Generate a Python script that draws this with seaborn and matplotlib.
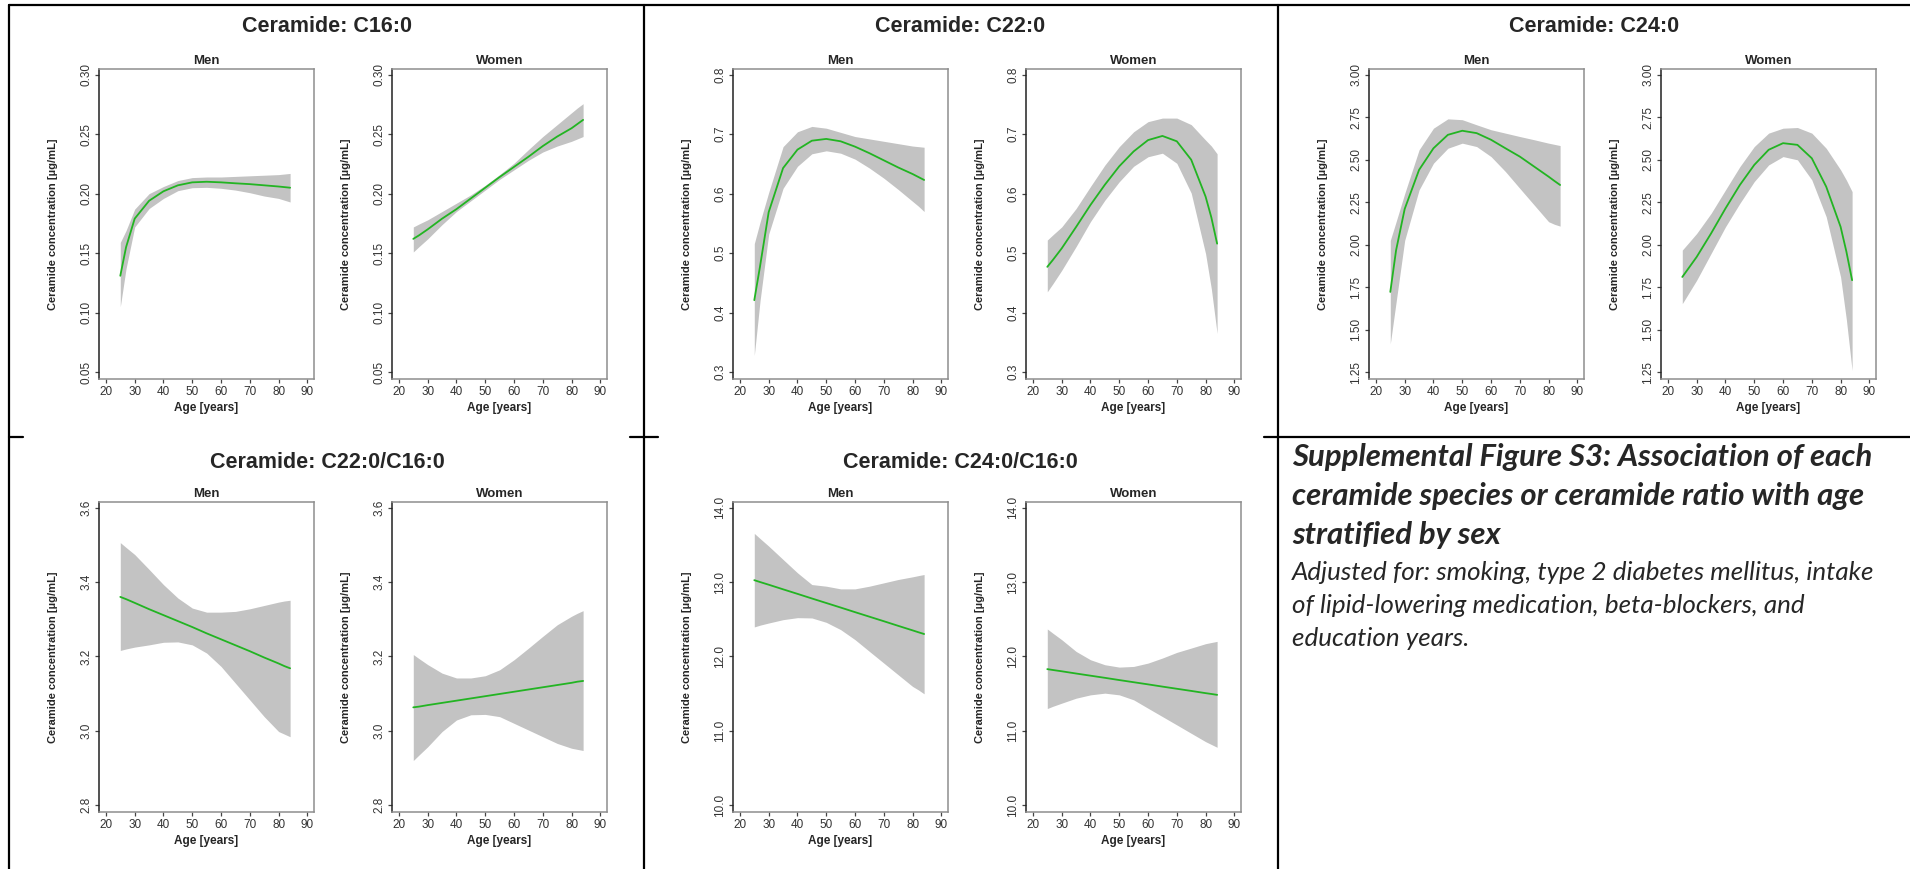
import matplotlib
matplotlib.use("Agg")
import matplotlib.pyplot as plt
from matplotlib.lines import Line2D
import seaborn as sns

# ---- data ----
ages = [25, 27, 30, 35, 40, 45, 50, 55, 60, 65, 70, 75, 80, 82, 84]

# Ceramide C16:0
c16_men_fit = [0.131, 0.155, 0.179, 0.194, 0.202, 0.207, 0.2095, 0.210, 0.2095, 0.2087, 0.208, 0.207, 0.206, 0.2055, 0.205]
c16_men_hi  = [0.159, 0.169, 0.187, 0.200, 0.206, 0.211, 0.2135, 0.214, 0.214, 0.2145, 0.215, 0.2155, 0.216, 0.2165, 0.217]
c16_men_lo  = [0.105, 0.137, 0.172, 0.1875, 0.196, 0.2025, 0.205, 0.2053, 0.2045, 0.203, 0.2008, 0.198, 0.196, 0.1945, 0.193]
c16_women_fit = [0.162, 0.165, 0.170, 0.179, 0.187, 0.196, 0.205, 0.214, 0.2225, 0.231, 0.240, 0.248, 0.255, 0.2585, 0.262]
c16_women_hi  = [0.172, 0.1745, 0.178, 0.185, 0.192, 0.199, 0.207, 0.216, 0.2256, 0.237, 0.248, 0.258, 0.268, 0.272, 0.2756]
c16_women_lo  = [0.151, 0.1555, 0.162, 0.174, 0.185, 0.194, 0.203, 0.212, 0.220, 0.228, 0.235, 0.240, 0.244, 0.246, 0.248]

# Ceramide C22:0
c22_men_fit = [0.421, 0.478, 0.569, 0.643, 0.674, 0.689, 0.692, 0.688, 0.679, 0.668, 0.656, 0.644, 0.633, 0.628, 0.623]
c22_men_hi  = [0.516, 0.552, 0.602, 0.679, 0.704, 0.713, 0.710, 0.703, 0.696, 0.692, 0.688, 0.684, 0.680, 0.679, 0.678]
c22_men_lo  = [0.328, 0.420, 0.532, 0.609, 0.646, 0.667, 0.672, 0.668, 0.658, 0.643, 0.626, 0.607, 0.587, 0.579, 0.570]
c22_women_fit = [0.477, 0.489, 0.508, 0.544, 0.581, 0.615, 0.646, 0.671, 0.690, 0.697, 0.688, 0.657, 0.595, 0.560, 0.516]
c22_women_hi  = [0.522, 0.531, 0.544, 0.575, 0.612, 0.648, 0.679, 0.704, 0.721, 0.727, 0.727, 0.716, 0.690, 0.680, 0.667]
c22_women_lo  = [0.435, 0.449, 0.471, 0.511, 0.553, 0.589, 0.620, 0.646, 0.662, 0.668, 0.651, 0.601, 0.499, 0.440, 0.365]

# Ceramide C24:0
c24_men_fit = [1.722, 1.966, 2.210, 2.440, 2.567, 2.646, 2.670, 2.656, 2.617, 2.567, 2.518, 2.459, 2.400, 2.375, 2.351]
c24_men_hi  = [2.025, 2.134, 2.300, 2.558, 2.685, 2.740, 2.735, 2.705, 2.676, 2.656, 2.636, 2.617, 2.597, 2.590, 2.583]
c24_men_lo  = [1.417, 1.660, 2.025, 2.322, 2.479, 2.567, 2.597, 2.577, 2.518, 2.430, 2.331, 2.233, 2.135, 2.120, 2.109]
c24_women_fit = [1.810, 1.857, 1.928, 2.066, 2.213, 2.351, 2.469, 2.558, 2.597, 2.587, 2.508, 2.341, 2.105, 1.960, 1.791]
c24_women_hi  = [1.968, 2.007, 2.066, 2.184, 2.322, 2.459, 2.577, 2.656, 2.685, 2.689, 2.656, 2.567, 2.440, 2.380, 2.312]
c24_women_lo  = [1.653, 1.708, 1.791, 1.948, 2.105, 2.243, 2.371, 2.469, 2.518, 2.499, 2.381, 2.164, 1.810, 1.560, 1.260]

# Ratio C22:0/C16:0
r22_men_fit = [3.360, 3.354, 3.344, 3.327, 3.311, 3.295, 3.279, 3.262, 3.246, 3.230, 3.214, 3.197, 3.181, 3.174, 3.168]
r22_men_hi  = [3.506, 3.493, 3.474, 3.434, 3.393, 3.357, 3.330, 3.319, 3.319, 3.321, 3.328, 3.337, 3.346, 3.349, 3.351]
r22_men_lo  = [3.216, 3.220, 3.225, 3.231, 3.238, 3.239, 3.231, 3.209, 3.173, 3.128, 3.083, 3.038, 2.998, 2.991, 2.984]
r22_women_fit = [3.063, 3.065, 3.069, 3.075, 3.081, 3.087, 3.093, 3.099, 3.105, 3.111, 3.117, 3.123, 3.129, 3.132, 3.134]
r22_women_hi  = [3.205, 3.194, 3.178, 3.155, 3.142, 3.142, 3.148, 3.164, 3.191, 3.222, 3.254, 3.285, 3.308, 3.316, 3.323]
r22_women_lo  = [2.920, 2.935, 2.957, 2.998, 3.029, 3.043, 3.044, 3.038, 3.020, 3.002, 2.984, 2.966, 2.953, 2.950, 2.947]

# Ratio C24:0/C16:0
r24_men_fit = [13.025, 13.000, 12.964, 12.902, 12.841, 12.779, 12.718, 12.657, 12.595, 12.534, 12.473, 12.411, 12.350, 12.325, 12.301]
r24_men_hi  = [13.654, 13.585, 13.483, 13.303, 13.124, 12.966, 12.944, 12.908, 12.908, 12.944, 12.989, 13.034, 13.070, 13.086, 13.101]
r24_men_lo  = [12.396, 12.420, 12.449, 12.494, 12.521, 12.517, 12.458, 12.360, 12.225, 12.067, 11.910, 11.753, 11.596, 11.550, 11.497]
r24_women_fit = [11.829, 11.817, 11.800, 11.770, 11.741, 11.712, 11.682, 11.653, 11.624, 11.594, 11.565, 11.536, 11.506, 11.495, 11.483]
r24_women_hi  = [12.369, 12.310, 12.225, 12.067, 11.955, 11.888, 11.856, 11.865, 11.910, 11.978, 12.054, 12.112, 12.171, 12.187, 12.202]
r24_women_lo  = [11.299, 11.330, 11.371, 11.438, 11.483, 11.506, 11.483, 11.416, 11.303, 11.191, 11.079, 10.966, 10.854, 10.816, 10.778]

titles = ["Ceramide: C16:0", "Ceramide: C22:0", "Ceramide: C24:0",
          "Ceramide: C22:0/C16:0", "Ceramide: C24:0/C16:0"]
y_ticks = [
    [0.05, 0.10, 0.15, 0.20, 0.25, 0.30],
    [0.3, 0.4, 0.5, 0.6, 0.7, 0.8],
    [1.25, 1.50, 1.75, 2.00, 2.25, 2.50, 2.75, 3.00],
    [2.8, 3.0, 3.2, 3.4, 3.6],
    [10.0, 11.0, 12.0, 13.0, 14.0],
]
y_fmt = ["{:.2f}", "{:.1f}", "{:.2f}", "{:.1f}", "{:.1f}"]
x_ticks = [20, 30, 40, 50, 60, 70, 80, 90]
sexes = ["Men", "Women"]

series = [
    [(c16_men_fit, c16_men_lo, c16_men_hi), (c16_women_fit, c16_women_lo, c16_women_hi)],
    [(c22_men_fit, c22_men_lo, c22_men_hi), (c22_women_fit, c22_women_lo, c22_women_hi)],
    [(c24_men_fit, c24_men_lo, c24_men_hi), (c24_women_fit, c24_women_lo, c24_women_hi)],
    [(r22_men_fit, r22_men_lo, r22_men_hi), (r22_women_fit, r22_women_lo, r22_women_hi)],
    [(r24_men_fit, r24_men_lo, r24_men_hi), (r24_women_fit, r24_women_lo, r24_women_hi)],
]

caption_bold = ["Supplemental Figure S3: Association of each",
                "ceramide species or ceramide ratio with age",
                "stratified by sex"]
caption_italic = ["Adjusted for: smoking, type 2 diabetes mellitus, intake",
                  "of lipid-lowering medication, beta-blockers, and",
                  "education years."]

# ---- layout (pixels of the 1910x869 canvas) ----
W, H = 1910, 869
col_axes_x = [(99, 392), (733, 1026), (1369, 1661)]
col_title_x = [327, 960, 1594]
row_box_y = [(69, 379), (502, 812)]
row_title_y = [27, 463]
ax_w = 215

GREEN = "#22b422"
BAND = "#c3c3c3"

sns.set_theme(style="white")
plt.rcParams["font.family"] = ["Liberation Sans", "DejaVu Sans"]

fig = plt.figure(figsize=(W / 100, H / 100), dpi=100)

for p, title in enumerate(titles):
    row, col = divmod(p, 3)
    y_top, y_bot = row_box_y[row]
    fig.text(col_title_x[col] / W, 1 - row_title_y[row] / H, title,
             ha="center", va="center", fontsize=15.5, fontweight="bold")
    ticks = y_ticks[p]
    span = ticks[-1] - ticks[0]
    for s, sex in enumerate(sexes):
        x0 = col_axes_x[col][s]
        ax = fig.add_axes([x0 / W, 1 - y_bot / H, ax_w / W, (y_bot - y_top) / H])
        fit, lo, hi = series[p][s]
        ax.fill_between(ages, lo, hi, color=BAND, linewidth=0)
        sns.lineplot(x=ages, y=fit, ax=ax, color=GREEN, linewidth=1.3)

        ax.set_xlim(17.6, 92.3)
        ax.set_ylim(ticks[0] - 0.023 * span, ticks[-1] + 0.019 * span)
        ax.set_xticks(x_ticks)
        ax.set_xticklabels([str(t) for t in x_ticks])
        ax.set_yticks(ticks)
        ax.set_yticklabels([y_fmt[p].format(t) for t in ticks], rotation=90, va="center")

        ax.tick_params(axis="both", which="major", length=3, width=0.9,
                       color="#444444", labelcolor="#333333", labelsize=8.5, pad=2,
                       bottom=True, left=True)
        for name, sp in ax.spines.items():
            sp.set_linewidth(1.1)
            sp.set_color("#222222" if name == "left" else "#8e8e8e")

        ax.set_title(sex, fontsize=9.5, fontweight="bold", pad=3.5)
        ax.set_xlabel("Age [years]", fontsize=8.5, fontweight="bold")
        ax.set_ylabel("Ceramide concentration [\u00b5g/mL]", fontsize=8, fontweight="bold")
        ax.yaxis.set_label_coords(-41 / ax_w, 0.5)
        ax.xaxis.set_label_coords(0.5, -23 / (y_bot - y_top))

# table borders
def hline(x_a, x_b, y):
    fig.add_artist(Line2D([x_a / W, x_b / W], [1 - y / H, 1 - y / H], color="black", linewidth=1.6))

def vline(x, y_a, y_b):
    fig.add_artist(Line2D([x / W, x / W], [1 - y_a / H, 1 - y_b / H], color="black", linewidth=1.6))

hline(9, W, 5)
for x in [9, 644, 1278]:
    vline(x, 5, H)
hline(9, 23, 437)
hline(630, 658, 437)
hline(1264, W, 437)

# caption text, sized so the first line of each block spans ~582 px like the reference
cap_x = 1292 / W
cap_width = 582
renderer = fig.canvas.get_renderer()
blocks = [(caption_bold, [466, 505, 544], dict(fontweight="bold", fontstyle="italic")),
          (caption_italic, [580, 613, 646], dict(fontstyle="italic"))]
for lines, ys, style in blocks:
    objs = [fig.text(cap_x, 1 - y / H, line, ha="left", va="baseline", fontsize=16,
                     family=["Lato", "DejaVu Sans"], **style)
            for line, y in zip(lines, ys)]
    w0 = objs[0].get_window_extent(renderer).width
    size = 16 * cap_width / w0
    for t in objs:
        t.set_fontsize(size)

fig.savefig("out.png", dpi=100)
